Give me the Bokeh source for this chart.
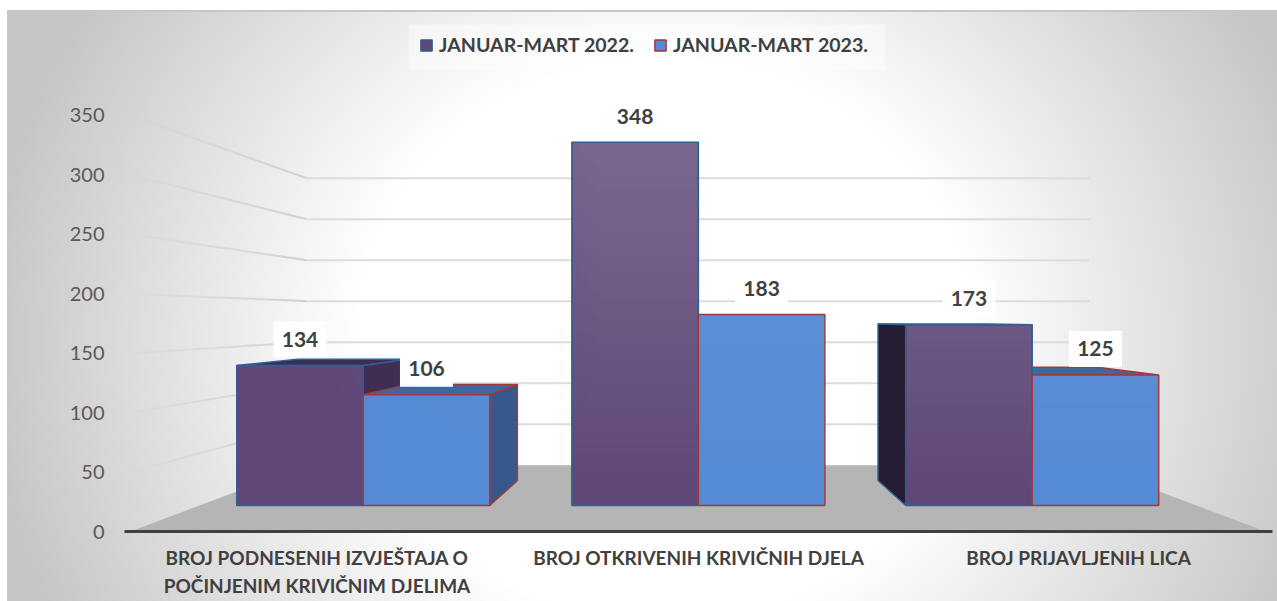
import numpy as np
from bokeh.plotting import figure
from bokeh.models import ColumnDataSource, Range1d, FixedTicker
from bokeh.core.properties import value
from bokeh.embed import file_html
from bokeh.resources import INLINE

# ---- data ----
categories = ["BROJ PODNESENIH IZVJEŠTAJA O\nPOČINJENIM KRIVIČNIM DJELIMA",
              "BROJ OTKRIVENIH KRIVIČNIH DJELA",
              "BROJ PRIJAVLJENIH LICA"]
series_2022 = [134, 348, 173]
series_2023 = [106, 183, 125]
series_names = ["JANUAR-MART 2022.", "JANUAR-MART 2023."]
y_ticks = [0, 50, 100, 150, 200, 250, 300, 350]

# ---- layout / perspective ----
W, H = 1277, 601
FRAME_L, FRAME_B = 110, 531
PX_PER_UNIT = 1.1886
cat_x = [316.5, 698, 1078]
HALF_GROUP = 144.0
VP_X, VP_V = 697.0, 180.0
S_FRONT, S_BAR_FRONT, S_BAR_BACK, S_WALL = 1.0, 0.8785, 0.7617, 0.69
FLOOR_L, FLOOR_R = 130, 1265

def px(x, s):
    return VP_X + (np.asarray(x, float) - VP_X) * s
def pv(v, s):
    return VP_V + (np.asarray(v, float) - VP_V) * s

p = figure(width=W, height=H, output_backend="svg", toolbar_location=None,
           x_range=Range1d(FRAME_L, W),
           y_range=Range1d(0, FRAME_B / PX_PER_UNIT),
           min_border_left=FRAME_L, min_border_right=0, min_border_top=0,
           min_border_bottom=H - FRAME_B,
           background_fill_alpha=0, border_fill_alpha=0,
           styles={"background":
                   "linear-gradient(#c6c6c6,#c6c6c6) 7px 10px/100% 2px no-repeat,"
                   "linear-gradient(#c6c6c6,#c6c6c6) 7px 10px/1px 100% no-repeat,"
                   "radial-gradient(ellipse 680px 620px at 658px 329px,#ffffff 45%,#c6c6c6 100%) 7px 11px/100% 100% no-repeat"})
p.outline_line_color = None
p.xgrid.visible = False
p.ygrid.visible = False

# axes
p.yaxis.ticker = FixedTicker(ticks=y_ticks)
p.yaxis.axis_line_color = None
p.yaxis.major_tick_line_color = None
p.yaxis.minor_tick_line_color = None
p.yaxis.major_label_standoff = 0
p.yaxis.major_label_text_font = "Lato"
p.yaxis.major_label_text_font_size = "20px"
p.yaxis.major_label_text_color = "#595959"

p.xaxis.ticker = FixedTicker(ticks=cat_x)
p.xaxis.major_label_overrides = {x: c for x, c in zip(cat_x, categories)}
p.xaxis.bounds = (124, 1272)
p.xaxis.axis_line_color = "#404040"
p.xaxis.axis_line_width = 3
p.xaxis.major_tick_line_color = None
p.xaxis.minor_tick_line_color = None
p.xaxis.major_label_standoff = 8
p.xaxis.major_label_text_font = "Lato"
p.xaxis.major_label_text_font_style = "bold"
p.xaxis.major_label_text_font_size = "19px"
p.xaxis.major_label_text_color = "#404040"
p.xaxis.major_label_text_line_height = 1.22

# legend plate
p.quad(left=[408], right=[885], bottom=[(FRAME_B - 69) / PX_PER_UNIT], top=[(FRAME_B - 24) / PX_PER_UNIT],
       fill_color="#ffffff", fill_alpha=0.45, line_color=None)

# gridlines on the back wall and fading along the side wall
grid_v = [t for t in y_ticks if t > 0]
p.segment(x0=[float(px(FLOOR_L, S_WALL))] * len(grid_v), x1=[float(px(FLOOR_R, S_WALL))] * len(grid_v),
          y0=pv(grid_v, S_WALL), y1=pv(grid_v, S_WALL), line_color="#dcdcdc", line_width=2)
steps = np.linspace(1.0, S_WALL, 15)
for t in grid_v:
    p.segment(x0=px(FLOOR_L, steps[:-1]), x1=px(FLOOR_L, steps[1:]),
              y0=pv(t, steps[:-1]), y1=pv(t, steps[1:]),
              line_color="#d0d0d0", line_width=2,
              line_alpha=np.linspace(0.2, 1, 14))

# floor
p.patch(x=[float(px(FLOOR_L, S_FRONT)), float(px(FLOOR_R, S_FRONT)),
           float(px(FLOOR_R, S_WALL)), float(px(FLOOR_L, S_WALL))],
        y=[0, 0, float(pv(0, S_WALL)), float(pv(0, S_WALL))],
        fill_color="#b5b5b5", line_color=None)

# bar geometry
def bar_edges(i, k):
    left = cat_x[i] - HALF_GROUP + k * HALF_GROUP
    return left, left + HALF_GROUP

def faces(k, vals, top_col, side_col_r, side_col_l, edge):
    for i, v in enumerate(vals):
        l, r = bar_edges(i, k)
        xs = lambda x: [float(px(x, S_BAR_FRONT)), float(px(x, S_BAR_BACK))]
        if v < VP_V:
            p.patch(x=[float(px(l, S_BAR_FRONT)), float(px(r, S_BAR_FRONT)),
                       float(px(r, S_BAR_BACK)), float(px(l, S_BAR_BACK))],
                    y=[float(pv(v, S_BAR_FRONT))] * 2 + [float(pv(v, S_BAR_BACK))] * 2,
                    fill_color=top_col, line_color=edge, line_width=1.5)
        side_x, col = None, None
        if px(r, S_BAR_FRONT) < VP_X:
            side_x, col = r, side_col_r
        elif px(l, S_BAR_FRONT) > VP_X:
            side_x, col = l, side_col_l
        if side_x is not None:
            a, b = xs(side_x)
            p.patch(x=[a, b, b, a],
                    y=[float(pv(0, S_BAR_FRONT)), float(pv(0, S_BAR_BACK)),
                       float(pv(v, S_BAR_BACK)), float(pv(v, S_BAR_FRONT))],
                    fill_color=col, line_color=edge, line_width=1.5)

EDGE_A, EDGE_B = "#2f6094", "#a33a3a"
faces(0, series_2022, "#3c2d52", "#3f2e52", "#241c30", EDGE_A)
faces(1, series_2023, "#3f689f", "#35598a", "#35598a", EDGE_B)

def front(k, vals, fill, edge, name, gain):
    lefts = [bar_edges(i, k)[0] for i in range(len(vals))]
    rights = [bar_edges(i, k)[1] for i in range(len(vals))]
    src = ColumnDataSource(dict(
        x=[float((px(a, S_BAR_FRONT) + px(b, S_BAR_FRONT)) / 2) for a, b in zip(lefts, rights)],
        w=[float(px(b, S_BAR_FRONT) - px(a, S_BAR_FRONT)) for a, b in zip(lefts, rights)],
        top=pv(vals, S_BAR_FRONT), bottom=[float(pv(0, S_BAR_FRONT))] * len(vals)))
    p.vbar(x="x", width="w", top="top", bottom="bottom", source=src,
           fill_color=fill, line_color=edge, line_width=1.5, legend_label=name)
    # soft light over the face
    for x, w, t, b in zip(src.data["x"], src.data["w"], src.data["top"], src.data["bottom"]):
        n = 48
        fy = np.linspace(0, 1, n)[:, None] * (t - b) * PX_PER_UNIT / 364.0
        fx = np.clip((np.linspace(x - w / 2, x + w / 2, n)[None, :] - 300) / 300.0, 0, 1)
        a = (gain * fy * fx * 255).astype(np.uint32)
        img = (a << 24) | 0x00FFFFFF
        p.image_rgba(image=[img.astype(np.uint32)], x=x - w / 2 + 1, y=b + 0.8,
                     dw=w - 2, dh=t - b - 1.6)

front(0, series_2022, "#5f4878", EDGE_A, series_names[0], 0.18)
front(1, series_2023, "#558bd4", EDGE_B, series_names[1], 0.07)

# data labels on white plates
lab_off = 26 / PX_PER_UNIT
lx, ly, lt = [], [], []
for k, vals in enumerate([series_2022, series_2023]):
    for i, v in enumerate(vals):
        l, r = bar_edges(i, k)
        lx.append(float((px(l, S_BAR_FRONT) + px(r, S_BAR_FRONT)) / 2))
        ly.append(float(pv(v, S_BAR_FRONT)) + lab_off)
        lt.append(str(v))
p.rect(x=lx, y=ly, width=53, height=36 / PX_PER_UNIT, fill_color="#ffffff", line_color=None)
p.text(x=lx, y=ly, text=lt, text_align="center", text_baseline="middle",
       text_font=value("Lato"), text_font_style="bold", text_font_size="21px",
       text_color="#404040")

# legend
leg = p.legend[0]
leg.orientation = "horizontal"
leg.location = (309, 475)
leg.background_fill_alpha = 0
leg.border_line_color = None
leg.padding = 0
leg.margin = 0
leg.spacing = 19
leg.glyph_width = 14
leg.glyph_height = 14
leg.label_standoff = 6
leg.label_text_font = "Lato"
leg.label_text_font_style = "bold"
leg.label_text_font_size = "19.6px"
leg.label_text_color = "#404040"

open("out.html", "w").write(file_html(p, INLINE))
